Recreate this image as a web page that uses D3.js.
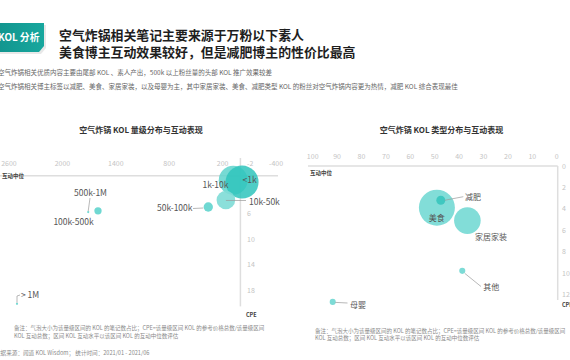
<!DOCTYPE html>
<html><head><meta charset="utf-8">
<script src="https://cdn.jsdelivr.net/npm/d3@7/dist/d3.min.js"></script>
<style>
html,body{margin:0;padding:0;background:#fff;overflow:hidden;}
svg{display:block;font-family:"Noto Sans CJK SC","Noto Sans",sans-serif;}
</style></head>
<body>
<svg id="c" width="570" height="360"></svg>
<script>
// ---- Data ----
const titleLines = ["空气炸锅相关笔记主要来源于万粉以下素人", "美食博主互动效果较好，但是减肥博主的性价比最高"];
const subLines = ["空气炸锅相关优质内容主要由尾部 KOL 、素人产出，500k 以上粉丝量的头部 KOL 推广效果较差",
  "空气炸锅相关博主标签以减肥、美食、家居家装，以及母婴为主，其中家居家装、美食、减肥类型 KOL 的粉丝对空气炸锅内容更为热情，减肥 KOL 综合表现最佳"];
const noteLines = ["备注：气泡大小为该量级区间的 KOL 的笔记数占比；CPE=该量级区间 KOL 的参考价格总数/该量级区间",
  "KOL 互动总数；区间 KOL 互动水平以该区间 KOL 的互动中位数评估"];
const sourceText = "数据来源：闻道 KOL Wisdom； 统计时间：2021/01 - 2021/06";

// Left chart: KOL level
const levelCats = ["1k-10k", "<1k", "10k-50k", "50k-100k", "100k-500k", "500k-1M", "> 1M"];
const levelInteract = [81, -19, 163, 361, 1600, 1710, 2510];   // 互动中位 (x)
const levelCPE = [0.7, 1.0, 3.8, 4.9, 5.5, 5.7, 20.1];        // CPE (y)
const levelShare = [34.5, 45.0, 14.3, 3.6, 2.2, 0.2, 0.2];     // 笔记数占比 (size)
const levelXTicks = [2600, 2000, 1400, 800, 200, -400];
const levelYTicks = [-2, 6, 10, 14, 18];

// Right chart: KOL type
const typeCats = ["美食", "减肥", "家居家装", "其他", "母婴"];
const typeInteract = [49.1, 47.5, 36.6, 38.7, 91.8];
const typeCPE = [3.9, 3.2, 5.1, 9.8, 12.7];
const typeShare = [60.0, 3.7, 32.8, 1.7, 1.7];
const typeXTicks = [100, 90, 80, 70, 60, 50, 40, 30, 20, 10, 0];
const typeYTicks = [0, 2, 4, 6, 8, 10, 12];

const svg = d3.select("#c");

// ---- Header ----
svg.append("polygon").attr("points", "0,25 46,25 46,48 41,54 0,54").attr("fill", "#d8d8d8").attr("opacity", 0.6);
const grad = svg.append("defs").append("linearGradient").attr("id", "tab").attr("x1", 0).attr("x2", 1);
grad.append("stop").attr("offset", 0).attr("stop-color", "#12968f");
grad.append("stop").attr("offset", 1).attr("stop-color", "#17a79e");
svg.append("polygon").attr("points", "0,23 44,23 44,46 39,52 0,52").attr("fill", "url(#tab)");
svg.append("text").attr("x", -2).attr("y", 41).attr("fill", "#fff").attr("font-size", 9.8).attr("font-weight", "bold").text("KOL 分析");

svg.selectAll("text.title").data(titleLines).join("text").attr("class", "title")
  .attr("x", 59).attr("y", (d, i) => 39.5 + i * 17).attr("font-size", 12.9).attr("font-weight", "bold").attr("fill", "#1e1e1e").text(d => d);
svg.selectAll("text.sub").data(subLines).join("text").attr("class", "sub")
  .attr("x", -2).attr("y", (d, i) => 74.5 + i * 14).attr("font-size", 6.5).attr("fill", "#666").text(d => d);

// ---- Left chart ----
const xL = d3.scaleLinear().domain([2600, -400]).range([9, 276]);
const yL = d3.scaleLinear().domain([-2, 20.5]).range([163, 306.4]);
const rL = d3.scaleSqrt().domain([0, 45]).range([0, 16.5]);

svg.append("text").attr("x", 141).attr("y", 133).attr("text-anchor", "middle").attr("font-size", 8).attr("font-weight", "bold").attr("fill", "#333").text("空气炸锅 KOL 量级分布与互动表现");

const gL = svg.append("g");
gL.append("line").attr("x1", 0).attr("x2", 278).attr("y1", yL(0)).attr("y2", yL(0)).attr("stroke", "#dedede").attr("stroke-width", 1.5);
gL.append("line").attr("x1", xL(0)).attr("x2", xL(0)).attr("y1", 158).attr("y2", yL(20.5)).attr("stroke", "#dedede").attr("stroke-width", 1.5);
gL.selectAll("text.xt").data(levelXTicks).join("text").attr("class", "xt")
  .attr("x", d => xL(d)).attr("y", 165.5).attr("text-anchor", "middle").attr("font-size", 7).attr("fill", "#c4c4c4").text(d => d);
gL.selectAll("text.yt").data(levelYTicks).join("text").attr("class", "yt")
  .attr("x", 247).attr("y", d => yL(d) + 2.5).attr("font-size", 7).attr("fill", "#c4c4c4").text(d => d);
gL.append("text").attr("x", 2).attr("y", 178).attr("font-size", 5.5).attr("font-weight", "bold").attr("fill", "#444").text("互动中位");
gL.append("text").attr("x", 246).attr("y", 317).attr("font-size", 5.5).attr("font-weight", "bold").attr("fill", "#444").text("CPE");

const levelFill = ["#5fd4cd", "#2fc4bc", "#7edbd6", "#6fd8d2", "#6fd8d2", "#6fd8d2", "#6fd8d2"];
const levelOp = [0.85, 0.85, 0.9, 1, 1, 1, 1];
levelCats.forEach((c, i) => {
  gL.append("circle").attr("cx", xL(levelInteract[i])).attr("cy", yL(levelCPE[i]))
    .attr("r", Math.max(1, rL(levelShare[i]))).attr("fill", levelFill[i]).attr("opacity", levelOp[i]);
});
// leader lines
const leaderL = [
  [[xL(levelInteract[2]), yL(levelCPE[2]) + 0.5], [246, 200.5]],
  [[xL(levelInteract[3]) - 5, 208], [193, 208.5]],
  [[xL(levelInteract[5]), yL(levelCPE[5]) - 1], [90, 198]],
  [[xL(levelInteract[6]), yL(levelCPE[6]) - 1], [17, 296], [20, 295]]
];
leaderL.forEach(pts => {
  gL.append("path").attr("d", d3.line()(pts)).attr("fill", "none").attr("stroke", "#999").attr("stroke-width", 0.7);
});
const labL = {
  "<1k": [242.5, 183, "start"], "1k-10k": [228.5, 188, "end"], "10k-50k": [249, 204.5, "start"],
  "50k-100k": [192.5, 211, "end"], "100k-500k": [73.5, 224.5, "middle"], "500k-1M": [90.5, 195.5, "middle"],
  "> 1M": [21, 298, "start"]
};
levelCats.forEach(c => {
  const p = labL[c];
  gL.append("text").attr("x", p[0]).attr("y", p[1]).attr("text-anchor", p[2]).attr("font-size", 8.5).attr("fill", "#555").text(c);
});

// ---- Right chart ----
const xR = d3.scaleLinear().domain([100, 0]).range([312.7, 556.7]);
const yR = d3.scaleLinear().domain([0, 13]).range([166, 305.1]);
const rR = d3.scaleSqrt().domain([0, 60]).range([0, 18]);

svg.append("text").attr("x", 441.5).attr("y", 133).attr("text-anchor", "middle").attr("font-size", 8).attr("font-weight", "bold").attr("fill", "#333").text("空气炸锅 KOL 类型分布与互动表现");
const gR = svg.append("g");
gR.append("line").attr("x1", 308).attr("x2", xR(0) + 1).attr("y1", yR(0)).attr("y2", yR(0)).attr("stroke", "#dedede").attr("stroke-width", 1.5);
gR.append("line").attr("x1", xR(0) + 1).attr("x2", xR(0) + 1).attr("y1", yR(0)).attr("y2", 300).attr("stroke", "#dedede").attr("stroke-width", 1.5);
gR.selectAll("text.xt").data(typeXTicks).join("text").attr("class", "xt")
  .attr("x", d => xR(d)).attr("y", 158.5).attr("text-anchor", "middle").attr("font-size", 7).attr("fill", "#c4c4c4").text(d => d);
gR.selectAll("text.yt").data(typeYTicks).join("text").attr("class", "yt")
  .attr("x", 562).attr("y", d => yR(d) + 2.5).attr("font-size", 7).attr("fill", "#c4c4c4").text(d => d);
gR.append("text").attr("x", 310).attr("y", 175).attr("font-size", 5.5).attr("font-weight", "bold").attr("fill", "#444").text("互动中位");
gR.append("text").attr("x", 562).attr("y", 307).attr("font-size", 5.5).attr("font-weight", "bold").attr("fill", "#444").text("CPE");

const typeFill = ["#82ddd8", "#3fc8c0", "#82ddd8", "#7ddbd6", "#7ddbd6"];
typeCats.forEach((c, i) => {
  gR.append("circle").attr("cx", xR(typeInteract[i])).attr("cy", yR(typeCPE[i]))
    .attr("r", rR(typeShare[i])).attr("fill", typeFill[i]);
});
const leaderR = [
  [[xR(typeInteract[1]) + 4, yR(typeCPE[1])], [463.3, 196.7]],
  [[xR(typeInteract[3]) + 2.5, yR(typeCPE[3]) + 2.5], [481, 286.5]],
  [[xR(typeInteract[4]) + 2.5, yR(typeCPE[4]) + 0.5], [347.5, 303]]
];
leaderR.forEach(pts => {
  gR.append("path").attr("d", d3.line()(pts)).attr("fill", "none").attr("stroke", "#999").attr("stroke-width", 0.7);
});
const labR = {
  "美食": [436.7, 221, "middle"], "减肥": [465, 199.5, "start"], "家居家装": [475, 240, "start"],
  "其他": [483.3, 290, "start"], "母婴": [350, 307.5, "start"]
};
typeCats.forEach(c => {
  const p = labR[c];
  gR.append("text").attr("x", p[0]).attr("y", p[1]).attr("text-anchor", p[2]).attr("font-size", 8).attr("fill", "#555").text(c);
});

// ---- Footnotes ----
svg.selectAll("text.noteL").data(noteLines).join("text").attr("class", "noteL")
  .attr("x", 14).attr("y", (d, i) => 330 + i * 8.3).attr("font-size", 5.5).attr("fill", "#8a8a8a").text(d => d);
svg.selectAll("text.noteR").data(noteLines).join("text").attr("class", "noteR")
  .attr("x", 315).attr("y", (d, i) => 333 + i * 6.8).attr("font-size", 5.5).attr("fill", "#8a8a8a").text(d => d);
svg.append("text").attr("x", -5).attr("y", 355).attr("font-size", 5.6).attr("fill", "#8a8a8a").text(sourceText);
</script>
</body></html>
